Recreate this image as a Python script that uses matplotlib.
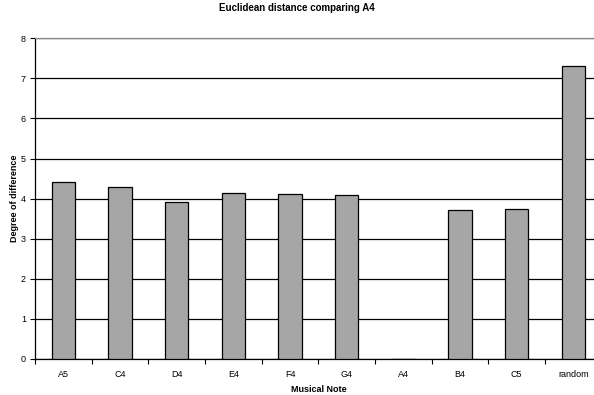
import matplotlib
matplotlib.use("Agg")
import matplotlib.pyplot as plt
import numpy as np

plt.rcParams['font.family'] = ['Liberation Sans', 'DejaVu Sans']

categories = ["A5", "C4", "D4", "E4", "F4", "G4", "A4", "B4", "C5", "random"]
values = [4.42, 4.28, 3.91, 4.14, 4.12, 4.10, 0.0, 3.71, 3.74, 7.31]
yticks = [0, 1, 2, 3, 4, 5, 6, 7, 8]

fig = plt.figure(figsize=(5.94, 3.95), dpi=100)
ax = fig.add_axes([35/594, 1 - 359/395, 566.7/594, (359 - 38.3)/395])

x = np.arange(len(categories))
ax.bar(x, values, width=0.41, color="#a6a6a6", edgecolor="black", linewidth=0.9, zorder=3)

ax.set_xlim(-0.5, len(categories) - 0.5)
ax.set_ylim(0, 8)
ax.set_yticks(yticks)
ax.set_yticklabels([str(t) for t in yticks], fontsize=6.5)
ax.yaxis.grid(True, color="black", linewidth=0.9, zorder=0)
ax.set_axisbelow(True)

ax.set_xticks(x)
ax.set_xticklabels(categories, fontsize=6.5)
ax.set_xticks(np.arange(-0.5, len(categories), 1), minor=True)
ax.tick_params(axis="x", which="major", length=0, pad=8)
ax.tick_params(axis="x", which="minor", length=3.5, width=0.8, direction="out")
ax.tick_params(axis="y", length=3.5, width=0.8, direction="out", pad=3)

ax.spines["right"].set_visible(False)
ax.spines["top"].set_color("#888888")
ax.spines["top"].set_linewidth(0.9)
ax.spines["left"].set_color("black")
ax.spines["left"].set_linewidth(0.9)
ax.spines["bottom"].set_color("black")
ax.spines["bottom"].set_linewidth(0.9)

ax.set_xlabel("Musical Note", fontsize=6.5, fontweight="bold", labelpad=4)
ax.set_ylabel("Degree of difference", fontsize=6.5, fontweight="bold", labelpad=1.5)
fig.text(0.5, 1 - 8/395, "Euclidean distance comparing A4", ha="center", va="center",
         fontsize=7, fontweight="bold")

fig.savefig("out.png", dpi=100, facecolor="white")
